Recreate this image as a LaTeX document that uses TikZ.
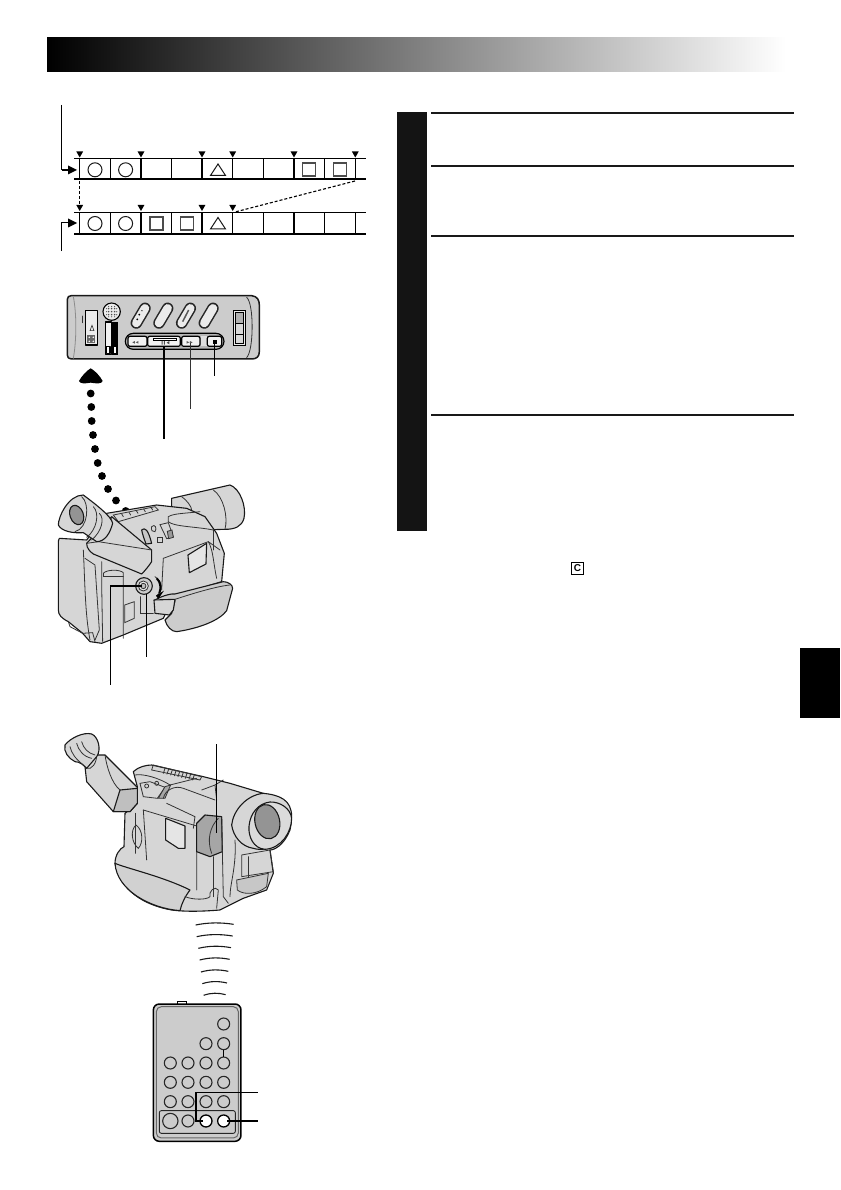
\documentclass[tikz,border=0pt]{standalone}
\usepackage{fontspec}
\setmainfont{Liberation Sans}
\usetikzlibrary{shadings}
\tikzset{
 ln/.style={line width=1.1pt,line join=round,line cap=round},
 body/.style={ln,fill=black!16,draw=black!90},
 dark/.style={ln,fill=black!30,draw=black!90},
 lite/.style={ln,fill=black!8,draw=black!90},
 inner/.style={line width=.8pt,draw=black!80,line cap=round},
 tapeline/.style={line width=.9pt},
 tapethick/.style={line width=2pt},
 sym/.style={line width=1pt,draw=black!90},
 leader/.style={line width=1pt},
 leaderb/.style={line width=1.5pt},
 rule/.style={line width=2pt,draw=black!90},
 zoomA/.style={x=.3333pt,y=-.3333pt,shift={(40pt,-450pt)}},
 zoomB/.style={x=.3333pt,y=-.3333pt,shift={(50pt,-280pt)}},
 zoomC/.style={x=.3333pt,y=-.3333pt,shift={(50pt,-700pt)}},
 zoomD/.style={x=.3333pt,y=-.3333pt,shift={(130pt,-910pt)}},
}
\newcommand{\tick}[2]{\fill[black] (#1-3.4,#2-6) -- (#1+3.4,#2-6) -- (#1,#2) -- cycle;}
\newcommand{\tcirc}[2]{\draw[sym] (#1,#2) circle (7);}
\newcommand{\tsq}[2]{\draw[sym,draw=black!70,line width=1.2pt] (#1-6.5,#2-6.5) rectangle (#1+6.5,#2+6.5);}
\newcommand{\ttri}[2]{\draw[sym,line join=miter] (#1-7.5,#2+5.5) -- (#1+7.5,#2+5.5) -- (#1,#2-6) -- cycle;}
\newcommand{\pill}[1]{\draw[line cap=round,line width=11.5pt,black!85] (#1-13,129) -- (#1+13,85);\draw[line cap=round,line width=8.5pt,black!8] (#1-13,129) -- (#1+13,85);}
\begin{document}
\begin{tikzpicture}[x=1pt,y=-1pt]
\useasboundingbox (0,0) rectangle (840,1190);
\fill[white] (0,0) rectangle (840,1190);
% header
\shade[left color=black,right color=white,middle color=black!50] (47,38) rectangle (786,72);
\fill[black] (800,648) rectangle (840,718);
% tape strips
\foreach \yt/\yb in {158.5/179.5,212.3/234}{
 \draw[tapeline] (74,\yt) -- (366,\yt);
 \draw[tapethick] (74,\yb) -- (366,\yb);
 \foreach \x in {79.7,110.3,171.7,232.7,263.3,324.7,355.3} \draw[tapeline] (\x,\yt) -- (\x,\yb);
 \foreach \x in {141,202,294} \draw[tapethick,line width=1.6pt] (\x,\yt) -- (\x,\yb);
}
\foreach \x in {79.7,141,202,232.7,294,355.3} {\tick{\x}{157.5}}
\foreach \x in {79.7,141,202,232.7} {\tick{\x}{211}}
\foreach \x in {95,125.6} {\tcirc{\x}{169.8}\tcirc{\x}{223.5}}
\ttri{218}{170}\ttri{218}{223.5}
\tsq{309}{169.5}\tsq{340}{169.5}\tsq{156.5}{223.5}\tsq{187}{223.5}
\draw[line width=1pt] (61.5,105) -- (61.5,170) -- (68,170);
\draw[line width=1.8pt] (61.5,170) -- (70,170);
\fill (68,165.5) -- (77,170) -- (68,174.5) -- cycle;
\draw[line width=1pt] (61.5,251) -- (61.5,223) -- (70,223);
\fill (68,218.5) -- (77,223) -- (68,227.5) -- cycle;
\draw[line width=1.1pt,dash pattern=on 3pt off 2pt] (79.7,181) -- (79.7,206);
\draw[line width=1.1pt,dash pattern=on 3pt off 2pt] (355,181) -- (235,212);

% control panel
\begin{scope}[zoomB]
\draw[body,line width=1.5pt,fill=black!20] (64,47) -- (605,47) .. controls (622,49) and (628,60) .. (628,75) -- (628,215) .. controls (628,230) and (620,237) .. (605,237) -- (64,237) .. controls (56,237) and (52,232) .. (52,225) -- (52,58) .. controls (52,51) and (57,47) .. (64,47) -- cycle;
\draw[inner,draw=black!45] (70,50) .. controls (80,100) and (80,180) .. (70,235);
\draw[inner] (590,52) .. controls (612,70) and (612,210) .. (590,233);
\draw[ln,fill=black!8] (106,92) -- (142,92) -- (142,195) -- (106,195) -- cycle;
\fill[black!60] (112,164) rectangle (136,190);
\draw[inner,line width=.6pt] (126,136) -- (120,152) -- (132,152) -- cycle;
\foreach \p in {(118,172),(130,172),(118,184),(130,184)} \fill[white] \p circle (2.5);
\draw[inner] (96,108) -- (96,128);
\draw[ln,fill=black!8] (185,95) circle (26);
\foreach \a in {-1,0,1} \foreach \b in {-1,0,1} \fill[black!70] (185+\a*9,95+\b*9) circle (2.5);
\foreach \a in {-1.7,1.7} \foreach \b in {-1,0,1} {\fill[black!70] (185+\a*9,95+\b*9) circle (1.8); \fill[black!70] (185+\b*9,95+\a*9) circle (1.8);}
\draw[ln,fill=black!6] (166,126) rectangle (184,224);
\draw[ln,fill=white] (170,200) rectangle (180,220);
\fill[black] (186,126) rectangle (204,224);
\draw[ln,fill=white] (190,200) rectangle (200,220);
\foreach \x in {272,340,408,476} {\pill{\x}}
\fill (268,104) circle (3); \fill (262,118) circle (3); \fill (276,92) circle (2);
\draw[line width=1.5pt,black!65] (398,125) -- (416,90);
\draw[line width=1pt,fill=black!8] (552,92) rectangle (588,196);
\draw[line width=1pt,fill=black!30] (558,98) rectangle (582,130);
\draw[line width=1pt,fill=black!15] (558,132) rectangle (582,190);
\draw[line width=.7pt] (558,162) -- (582,162);
\draw[line width=1.2pt,fill=black!28,rounded corners=8pt] (226,160) rectangle (522,208);
\draw[line width=1.2pt,fill=black!5,rounded corners=2pt] (234,169) rectangle (291,199);
\draw[line width=1.2pt,fill=black!5,rounded corners=2pt] (293,169) rectangle (391,199);
\draw[line width=1.2pt,fill=black!5,rounded corners=2pt] (395,169) rectangle (450,199);
\fill[black!12] (452,169) rectangle (470,199);
\draw[line width=1.2pt,fill=black!5,rounded corners=2pt] (472,169) rectangle (515,199);
\fill[black!65] (247,187) -- (255,191) -- (255,183) -- cycle (257,187) -- (265,191) -- (265,183) -- cycle;
\fill[black!65] (410,183) -- (418,187) -- (410,191) -- cycle (420,183) -- (428,187) -- (420,191) -- cycle;
\fill[black!70] (335,182) rectangle (338,194) (342,182) rectangle (345,194) (350,188) -- (358,183) -- (358,193) -- cycle;
\draw[line width=.8pt,fill=white] (310,174) rectangle (380,180);
\fill[black] (488,180) rectangle (500,193);
\draw[line width=1.4pt] (342,198) -- (342,478);
\draw[line width=1pt,draw=black!80] (421,190) -- (421,386);
\draw[leaderb] (494,186) -- (494,288);
% big arrow head
\fill (122,265) .. controls (135,272) and (150,288) .. (158,303) .. controls (155,312) and (140,311) .. (122,308) .. controls (105,311) and (90,312) .. (87,303) .. controls (95,288) and (110,272) .. (122,265) -- cycle;
\end{scope}
% dots
\foreach \x/\y in {90.7/393.5,91.3/407,91.7/421,93/435,95/449,97.7/463,102/476,108/489,116/500.5,125.7/511}
 \fill (\x,\y) circle (3.9);

% camcorder 1
\begin{scope}[zoomA]
\draw[body] (395,145) -- (570,105) .. controls (600,115) and (620,170) .. (612,205) .. controls (605,230) and (585,238) .. (555,238) -- (480,240) -- (395,200) -- cycle;
\draw[inner] (520,120) .. controls (550,140) and (565,200) .. (555,238);
\draw[inner] (425,140) .. controls (440,150) and (455,170) .. (455,180);
\draw[body] (58,265) -- (140,270) -- (200,190) -- (350,165) -- (440,175) -- (495,200) -- (530,250) -- (553,310) -- (545,395) -- (400,440) -- (370,505) -- (250,555) -- (185,580) -- (150,575) -- (128,550) -- (85,515) .. controls (65,505) and (55,495) .. (55,480) -- (55,285) .. controls (55,275) and (55,268) .. (58,265) -- cycle;
\draw[inner] (130,300) .. controls (135,400) and (135,490) .. (150,570);
\draw[inner] (135,325) -- (165,345) -- (178,540) -- (165,570);
\draw[inner] (185,335) -- (185,400) -- (188,575);
\draw[inner] (190,370) .. controls (200,358) and (240,358) .. (250,368) -- (250,565);
\draw[inner] (190,370) -- (190,378) -- (250,378);
\draw[inner] (85,515) -- (90,530) -- (128,550) -- (158,548) -- (165,575);
\draw[inner] (370,325) -- (505,275) -- (540,300);
\draw[inner] (370,325) -- (365,420);
\draw[inner] (505,275) .. controls (520,300) and (520,340) .. (530,385);
\draw[lite,fill=black!10] (444,315) -- (500,280) -- (498,342) -- (448,368) -- cycle;
\draw[inner] (385,215) -- (385,200) .. controls (400,190) and (440,190) .. (480,185);
\draw[inner] (385,215) .. controls (400,230) and (470,230) .. (520,240);
\draw[inner] (520,240) -- (520,300);
\draw[inner] (254,465) -- (283,455) -- (283,505) -- (254,518) -- cycle;
\draw[inner] (300,440) -- (300,490) -- (340,490);
\draw[body,fill=black!22] (305,240) .. controls (315,230) and (325,240) .. (335,280) -- (318,282) .. controls (312,265) and (308,255) .. (305,240) -- cycle;
\draw[inner] (335,230) .. controls (345,220) and (352,235) .. (345,245) .. controls (338,248) and (332,240) .. (335,230);
\draw[inner] (352,262) rectangle (368,278);
\draw[inner] (360,224) -- (385,218) -- (400,260) -- (380,266) -- cycle;
\draw[inner,fill=black!40] (382,244) -- (396,240) -- (400,262) -- (386,266) -- cycle;
\draw[inner] (220,195) -- (345,170) -- (355,180) -- (235,215) -- cycle;
\foreach \i in {0,1,2,3,4} \draw[inner] (245+\i*22,192-\i*5) -- (250+\i*22,200-\i*5);
\draw[body] (140,280) -- (215,200) -- (335,300) -- (335,335) .. controls (325,350) and (315,362) .. (305,372) -- (160,312) .. controls (150,305) and (140,295) .. (140,280) -- cycle;
\draw[inner] (215,200) .. controls (210,225) and (195,265) .. (175,275);
\draw[inner] (175,275) -- (140,280);
\draw[inner] (175,275) -- (335,300);
\draw[body] (130,135) .. controls (170,165) and (215,200) .. (218,220) .. controls (210,250) and (195,275) .. (170,275) -- (130,248) .. controls (100,250) and (65,245) .. (55,225) .. controls (55,200) and (85,135) .. (130,135) -- cycle;
\draw[inner] (160,170) .. controls (180,190) and (170,240) .. (140,262);
\draw[inner] (178,190) .. controls (195,205) and (185,245) .. (155,270);
\draw[dark,fill=black!42] (110,195) ellipse [x radius=20,y radius=30,rotate=20];
\draw[inner] (125,140) .. controls (150,160) and (145,235) .. (105,245);
\draw[body,fill=black!20] (345,450) .. controls (370,435) and (400,430) .. (405,432) -- (550,395) .. controls (565,395) and (578,405) .. (578,415) -- (560,482) .. controls (540,510) and (480,535) .. (410,545) .. controls (395,545) and (380,530) .. (375,510) -- (395,490) -- (405,452) -- (345,452) -- cycle;
\draw[body,fill=black!16] (342,450) -- (405,448) -- (400,480) -- (388,495) -- (345,490) -- cycle;
\draw[inner] (405,448) .. controls (430,440) and (520,410) .. (570,405);
\draw[inner,line width=.8pt] (345,380) .. controls (368,395) and (370,420) .. (350,438);
\fill (348,437) -- (372,422) -- (355,447) -- cycle;
\draw[line width=2pt] (350,385) .. controls (362,395) and (364,415) .. (358,430);
\draw[body,fill=black!20] (312,408) circle (25);
\draw[inner,fill=black!8] (310,408) circle (15);
\draw[inner,fill=black!25] (310,408) circle (8);
\draw[line width=1.3pt] (305,408) -- (212,408) -- (212,705);
\draw[line width=1.3pt] (320,432) -- (320,621);
\end{scope}

% camcorder 2
\begin{scope}[zoomC]
\draw[body] (250,215) .. controls (265,200) and (290,195) .. (305,195) -- (460,230) -- (540,250) -- (690,295) .. controls (720,310) and (730,350) .. (720,390) .. controls (700,440) and (670,450) .. (660,450) -- (670,520) -- (650,570) -- (580,595) -- (510,630) .. controls (450,635) and (400,635) .. (365,630) .. controls (280,615) and (210,570) .. (195,490) .. controls (195,465) and (210,445) .. (222,440) -- (225,340) -- (262,310) -- (262,260) -- cycle;
\draw[inner] (255,225) .. controls (280,220) and (330,235) .. (360,255) -- (440,235);
\draw[inner] (305,210) -- (450,240) -- (455,230) -- (310,195) -- cycle;
\foreach \i in {0,...,8} \draw[inner] (345+\i*11,205+\i*2.5) -- (340+\i*11,220+\i*2.5);
\draw[inner] (270,250) -- (300,245) -- (345,262) -- (322,295) -- (280,290) -- cycle;
\draw[inner] (290,258) circle (6); \draw[inner] (320,250) circle (6);
\draw[inner,fill=black!35] (345,260) -- (362,255) -- (345,295) -- (325,295) -- cycle;
\draw[inner] (340,295) .. controls (345,270) and (375,255) .. (400,265) -- (495,300);
\draw[inner] (350,310) -- (435,350) -- (430,385);
\draw[inner] (280,330) -- (440,378) -- (440,570);
\draw[inner] (280,330) -- (290,480);
\draw[lite,fill=black!10] (347,355) -- (405,378) -- (405,445) -- (385,445) -- (347,420) -- cycle;
\draw[inner] (258,375) .. controls (240,390) and (245,430) .. (265,445) .. controls (280,430) and (280,390) .. (258,375);
\draw[inner] (255,340) -- (255,460);
\draw[inner] (455,270) -- (495,255) -- (520,240);
\draw[inner] (495,255) -- (500,300);
\draw[dark,fill=black!35] (440,370) -- (465,345) -- (515,350) -- (517,455) -- (480,470) -- (440,455) -- cycle;
\draw[inner] (505,355) .. controls (480,380) and (470,420) .. (485,460);
\draw[inner] (490,470) -- (490,590);
\draw[inner] (515,350) -- (520,590) -- (535,610);
\draw[body,fill=black!18] (195,490) .. controls (230,505) and (340,530) .. (420,570) .. controls (405,590) and (395,610) .. (390,632) .. controls (300,625) and (200,570) .. (195,490) -- cycle;
\draw[inner] (405,590) .. controls (430,600) and (470,600) .. (480,590) .. controls (475,575) and (495,555) .. (505,570) -- (500,625);
\draw[inner] (575,465) -- (660,450) -- (670,515) -- (575,530) -- cycle;
\draw[inner,fill=black!22] (560,540) -- (655,520) -- (650,560) .. controls (620,585) and (580,585) .. (562,570) -- cycle;
\draw[inner] (595,470) -- (595,530);
\draw[inner] (555,420) .. controls (560,500) and (540,550) .. (540,590);
\draw[body] (640,280) .. controls (590,285) and (550,330) .. (545,375) .. controls (550,410) and (575,440) .. (610,445) .. controls (660,460) and (710,420) .. (725,350) .. controls (725,300) and (690,285) .. (640,280) -- cycle;
\draw[body,fill=black!14] (660,306) .. controls (690,305) and (722,325) .. (725,355) .. controls (725,395) and (695,445) .. (645,448) .. controls (610,445) and (595,410) .. (597,380) .. controls (600,340) and (625,310) .. (660,306) -- cycle;
\draw[dark,fill=black!42] (652,365) ellipse [x radius=37,y radius=52,rotate=12];
\draw[body] (135,165) -- (165,165) -- (262,262) -- (262,310) -- (240,335) -- (190,335) -- (110,245) -- (105,200) -- cycle;
\draw[dark,fill=black!25] (210,270) -- (262,265) -- (262,310) -- (240,335) -- (190,335) -- cycle;
\draw[inner] (165,165) .. controls (170,200) and (185,250) .. (210,270);
\draw[inner] (110,205) .. controls (125,210) and (140,190) .. (140,165);
\draw[body] (45,135) .. controls (60,115) and (100,95) .. (125,102) .. controls (145,110) and (155,150) .. (140,170) -- (110,205) .. controls (100,195) and (90,185) .. (75,185) .. controls (55,175) and (40,155) .. (45,135) -- cycle;
\draw[inner] (80,130) .. controls (85,150) and (100,170) .. (125,175);
\draw[inner] (95,125) .. controls (100,145) and (115,160) .. (135,165);
\draw[inner] (60,140) .. controls (65,160) and (75,175) .. (100,195);
\draw[line width=1.4pt] (500,132) -- (500,398);
\end{scope}

% remote
\begin{scope}[zoomD]
\foreach \y/\w in {40/57,75/54,110/49,145/45,181/41,216/37,251/33} 
 \draw[line width=1.1pt,draw=black!90] (254-\w,\y+5) .. controls (254-\w/3,\y-3) and (254+\w/3,\y-3) .. (254+\w,\y+3);
\draw[line width=.9pt] (142,273) rectangle (170,283);
\draw[line width=1.5pt,fill=black!20,rounded corners=6pt] (70,282) rectangle (333,694);
\draw[line width=1pt,draw=black!60,rounded corners=5pt] (79,290) rectangle (325,684);
\draw[line width=.9pt,draw=black!85,rounded corners=2pt] (88,602) rectangle (316,670);
\foreach \x in {121,174,228,281} \foreach \y in {459,517,575}
 \draw[line width=1.1pt,draw=black!85] (\x,\y) circle (18);
\draw[line width=1.1pt,draw=black!85] (281,342) circle (18) (228,401) circle (18) (281,401) circle (18);
\draw[line width=1.1pt,draw=black!85] (121,633) circle (23) (174,633) circle (18);
\draw[line width=1.3pt,fill=white] (228,633) circle (18) (281,633) circle (18);
\draw[line width=1.4pt] (281,419) -- (281,441);
\draw[line width=1.1pt] (383,548) -- (198,548) -- (198,633) -- (218,633);
\draw[leaderb] (383,633) -- (290,633);
\end{scope}

% right column
\fill[black!92] (397,112) rectangle (427,531);
\foreach \y in {113,166,236,415} \draw[rule] (431,\y) -- (794,\y);
\node[draw,line width=.8pt,inner sep=0pt,minimum size=12.5pt,font=\bfseries\fontsize{10}{10}\selectfont] (cbox) at (577.5,568.5) {C};
\end{tikzpicture}
\end{document}
